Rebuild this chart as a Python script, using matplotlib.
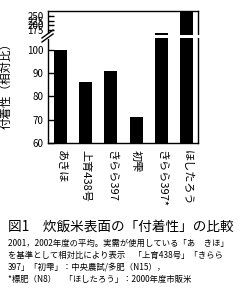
import numpy as np
import matplotlib
matplotlib.use("Agg")
import matplotlib.pyplot as plt
from matplotlib.lines import Line2D
from matplotlib.patches import Rectangle

plt.rcParams["font.family"] = ["Noto Sans CJK JP", "DejaVu Sans"]

varieties = ["あきほ", "上育438号", "きらら397", "初雫", "きらら397*", "ほしたろう"]
stickiness = [100, 86, 91, 71, 162, 290]
lower_ticks = [60, 70, 80, 90, 100]
upper_ticks = [175, 200, 225, 250]
title = "図1　炊飯米表面の「付着性」の比較"
notes = [
    "2001，2002年度の平均。実需が使用している「あ　きほ」",
    "を基準として相対比により表示　「上育438号」「きらら",
    "397」「初雫」：中央農試/多肥（N15），",
    "*標肥（N8）　「ほしたろう」：2000年度市販米",
]

# broken axis: linear up to 100, squeezed above
A, B = 0.1147, 0.08
F175 = 100 + 75 * A


def forward(v):
    v = np.asarray(v, dtype=float)
    return np.where(v <= 100, v, np.where(v <= 175, 100 + (v - 100) * A, F175 + (v - 175) * B))


def inverse(f):
    f = np.asarray(f, dtype=float)
    return np.where(f <= 100, f, np.where(f <= F175, 100 + (f - 100) / A, 175 + (f - F175) / B))


W, H = 245, 292
fig = plt.figure(figsize=(W / 100, H / 100), dpi=100)
ax = fig.add_axes([48 / W, 1 - 143 / H, 150 / W, 132.5 / H])
ax.set_yscale("function", functions=(forward, inverse))

x = np.arange(len(varieties))
ax.bar(x, stickiness, width=0.515, bottom=0, color="black")
ax.set_xlim(-0.495, 5.45)
ax.set_ylim(60, 279)

ax.set_yticks(lower_ticks + upper_ticks)
ax.set_yticklabels([str(t) for t in lower_ticks + upper_ticks], fontsize=7)
ax.tick_params(axis="y", direction="in", length=4.5, width=1, pad=3)
ax.set_xticks(x)
ax.set_xticklabels(varieties, rotation=270, fontsize=8, va="top", ha="center")
ax.tick_params(axis="x", length=0, pad=5)
for s in ax.spines.values():
    s.set_linewidth(1)

ax.set_ylabel("付着性（相対比）", fontsize=8.3, labelpad=2)
ax.yaxis.set_label_coords(-0.235, 0.45)

# white gap through the tall bars and right spine
blend = ax.get_yaxis_transform()
ax.add_patch(Rectangle((0.69, 144), 0.33, 12.5, transform=blend,
                       facecolor="white", edgecolor="none", clip_on=False, zorder=5))
# break marks on the left spine
ax.add_patch(Rectangle((-0.01, 140), 0.02, 20, transform=blend,
                       facecolor="white", edgecolor="none", clip_on=False, zorder=5))
fx = lambda px: px / W
fy = lambda py: 1 - py / H
for dy in (0, 4):
    fig.add_artist(Line2D([fx(42), fx(53)], [fy(38 + dy), fy(30 + dy)],
                          color="black", lw=1, zorder=6))

fig.text(fx(8), fy(227), title, fontsize=9.8, va="center", ha="left")
for i, line in enumerate(notes):
    fig.text(fx(8), fy(243 + 12 * i), line, fontsize=6.0, va="center", ha="left")

fig.savefig("out.png", dpi=100)
